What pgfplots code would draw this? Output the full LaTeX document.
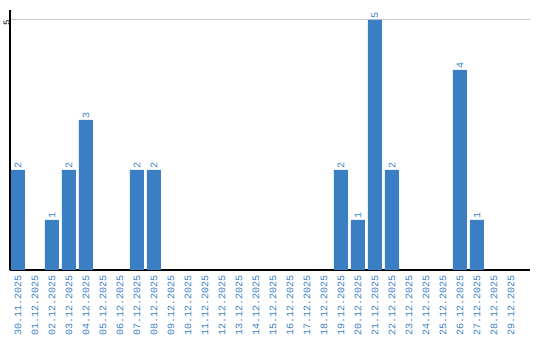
\documentclass[border=0pt]{standalone}
\usepackage{pgfplots}
\pgfplotsset{compat=1.18}
\usepackage{fontspec}
\setmainfont{Liberation Mono}
\definecolor{barblue}{RGB}{58,126,196}
\definecolor{gridgray}{RGB}{200,200,200}
\begin{document}
\begin{tikzpicture}
\begin{axis}[
  name=ax,
  scale only axis,
  width=520bp, height=260bp,
  xmin=-0.47, xmax=30.12,
  ymin=0, ymax=5.2,
  axis x line*=bottom,
  axis y line*=left,
  axis line style={black, line width=1.2bp, -},
  xtick={0,...,29},
  xticklabels={30.11.2025,01.12.2025,02.12.2025,03.12.2025,04.12.2025,05.12.2025,06.12.2025,07.12.2025,08.12.2025,09.12.2025,10.12.2025,11.12.2025,12.12.2025,13.12.2025,14.12.2025,15.12.2025,16.12.2025,17.12.2025,18.12.2025,19.12.2025,20.12.2025,21.12.2025,22.12.2025,23.12.2025,24.12.2025,25.12.2025,26.12.2025,27.12.2025,28.12.2025,29.12.2025},
  x tick label style={rotate=90, anchor=east, text=barblue, font=\fontsize{10bp}{11bp}\selectfont, inner sep=0pt, inner xsep=5bp},
  xtick style={draw=none},
  major tick length=0pt,
  ytick={5},
  y tick label style={rotate=90, anchor=south, font=\fontsize{9bp}{10bp}\selectfont, inner sep=0pt, xshift=-3bp},
  /pgf/number format/assume math mode=true,
  ymajorgrids,
  grid style={gridgray, line width=1bp},
  clip=false,
]
\addplot[ybar, bar width=14bp, fill=barblue, draw=none,
  nodes near coords,
  every node near coord/.append style={rotate=90, anchor=west, text=barblue, font=\fontsize{10bp}{11bp}\selectfont, inner sep=0pt, xshift=1.5bp}]
coordinates {
 (0,2) (2,1) (3,2) (4,3) (7,2) (8,2) (19,2) (20,1) (21,5) (22,2) (26,4) (27,1)
};
\end{axis}
\pgfresetboundingbox
\useasboundingbox ([xshift=-10bp,yshift=-70bp]ax.south west) rectangle ([xshift=10bp,yshift=10bp]ax.north east);
\end{tikzpicture}
\end{document}
